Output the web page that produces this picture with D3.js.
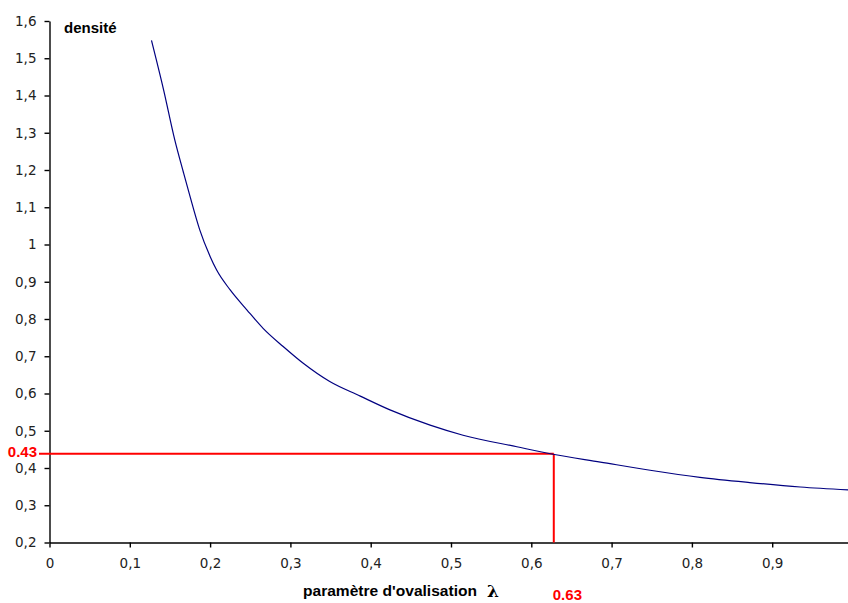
<!DOCTYPE html>
<html><head><meta charset="utf-8">
<script src="https://cdn.jsdelivr.net/npm/d3@7"></script>
<style>
html,body{margin:0;padding:0;background:#fff;}
svg{display:block;}
</style></head>
<body>
<svg id="c" width="848" height="603"></svg>
<script>
const lambdaValues = [0.127,0.142,0.156,0.167,0.175,0.187,0.200,0.208,0.225,0.246,0.266,0.291,0.316,0.349,0.387,0.424,0.474,0.515,0.582,0.627,0.686,0.748,0.810,0.872,0.935,0.995];
const densityValues = [1.548,1.416,1.281,1.192,1.129,1.040,0.968,0.932,0.878,0.824,0.775,0.726,0.681,0.632,0.593,0.556,0.515,0.488,0.457,0.437,0.416,0.394,0.375,0.361,0.349,0.341];
const xTicks = [0,0.1,0.2,0.3,0.4,0.5,0.6,0.7,0.8,0.9];
const xTickLabels = ["0","0,1","0,2","0,3","0,4","0,5","0,6","0,7","0,8","0,9"];
const yTicks = [0.2,0.3,0.4,0.5,0.6,0.7,0.8,0.9,1.0,1.1,1.2,1.3,1.4,1.5,1.6];
const yTickLabels = ["0,2","0,3","0,4","0,5","0,6","0,7","0,8","0,9","1","1,1","1,2","1,3","1,4","1,5","1,6"];
const markerX = 0.628, markerY = 0.438;
const markerXLabel = "0.63", markerYLabel = "0.43";
const yTitle = "densité";
const xTitle = "paramètre d'ovalisation";
const xTitleSymbol = "λ";

const svg = d3.select("#c");
const x = d3.scaleLinear().domain([0,1]).range([49.5,852.5]);
const y = d3.scaleLinear().domain([0.2,1.6]).range([542.5,21]);

const tickFont = "'DejaVu Sans', sans-serif";
// y axis
const yAxis = d3.axisLeft(y).tickValues(yTicks).tickFormat((d,i)=>yTickLabels[i]).tickSize(5).tickSizeOuter(0).tickPadding(8);
const gy = svg.append("g").attr("transform","translate(49.5,0)").call(yAxis);
gy.select(".domain").attr("stroke","#000").attr("stroke-width",1.4);
gy.selectAll(".tick line").attr("stroke","#000").attr("stroke-width",1.4);
gy.selectAll(".tick text").attr("font-family",tickFont).attr("font-size",13.5).attr("fill","#222");

// x axis
const xAxis = d3.axisBottom(x).tickValues(xTicks).tickFormat((d,i)=>xTickLabels[i]).tickSize(5).tickSizeOuter(0).tickPadding(11);
const gx = svg.append("g").attr("transform","translate(0,542.5)").call(xAxis);
gx.select(".domain").attr("stroke","#000").attr("stroke-width",1.4);
gx.selectAll(".tick line").attr("stroke","#000").attr("stroke-width",1.4);
gx.selectAll(".tick text").attr("font-family",tickFont).attr("font-size",13.5).attr("fill","#222");

// red marker lines
svg.append("line").attr("x1",39).attr("x2",x(markerX)).attr("y1",y(markerY)).attr("y2",y(markerY))
  .attr("stroke","#ff0000").attr("stroke-width",2);
svg.append("line").attr("x1",x(markerX)).attr("x2",x(markerX)).attr("y1",y(markerY)).attr("y2",y(0.2))
  .attr("stroke","#ff0000").attr("stroke-width",2);

// curve
const pts = lambdaValues.map((l,i)=>[l,densityValues[i]]);
svg.append("path").datum(pts)
  .attr("d", d3.line().x(d=>x(d[0])).y(d=>y(d[1])).curve(d3.curveMonotoneX))
  .attr("fill","none").attr("stroke","#000080").attr("stroke-width",1.2);

// labels
const boldFont = "'Liberation Sans', Arial, sans-serif";
svg.append("text").attr("x",64).attr("y",33).attr("font-family",boldFont).attr("font-weight","bold")
  .attr("font-size",15).attr("fill","#000").text(yTitle);
svg.append("text").attr("x",303).attr("y",596).attr("font-family",boldFont).attr("font-weight","bold")
  .attr("font-size",15).attr("fill","#000").attr("textLength",174).attr("lengthAdjust","spacingAndGlyphs").text(xTitle);
svg.append("text").attr("x",487).attr("y",597).attr("font-family","'DejaVu Serif', serif").attr("font-weight","bold")
  .attr("font-size",17).attr("fill","#000").text(xTitleSymbol);
svg.append("text").attr("x",x(markerX)-1).attr("y",600).attr("font-family",boldFont).attr("font-weight","bold")
  .attr("font-size",15).attr("fill","#ff0000").text(markerXLabel);
svg.append("text").attr("x",37).attr("y",457).attr("text-anchor","end").attr("font-family",boldFont).attr("font-weight","bold")
  .attr("font-size",15).attr("fill","#ff0000").text(markerYLabel);
</script>
</body></html>
